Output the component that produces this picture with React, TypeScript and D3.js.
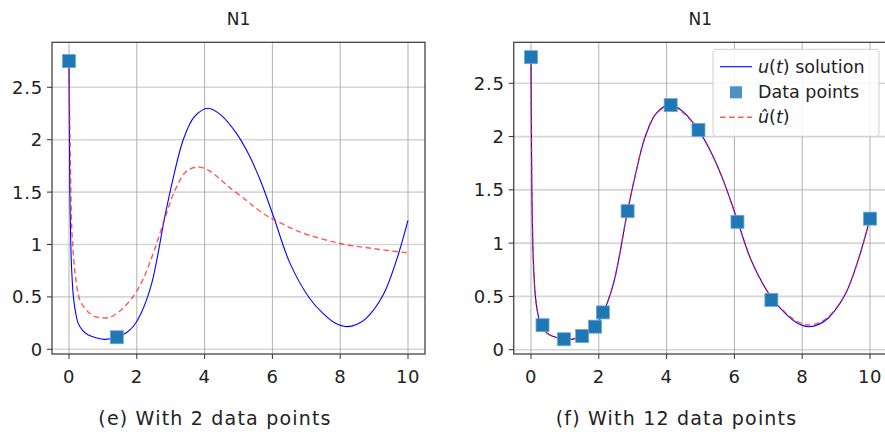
import React from "react";
import * as d3 from "d3";

// ---------- data ----------
const xTicks = [0, 2, 4, 6, 8, 10];
const yTicks = [0, 0.5, 1, 1.5, 2, 2.5];
const yTickLabels = ["0", "0.5", "1", "1.5", "2", "2.5"];

// true solution u(t)
const solT = [0, 0.01, 0.025, 0.05, 0.08, 0.13, 0.2, 0.27, 0.4, 0.57, 0.8, 1.05, 1.4, 1.7, 1.9, 2.12, 2.44, 2.83, 3.05, 3.37, 3.7, 4.11, 4.5, 4.94, 5.3, 5.64, 6.03, 6.52, 7.09, 7.5, 7.85, 8.19, 8.5, 8.78, 9.27, 9.67, 10];
const solU = [2.75, 2.15, 1.5, 1.04, 0.75, 0.5, 0.34, 0.25, 0.18, 0.136, 0.11, 0.095, 0.112, 0.16, 0.22, 0.34, 0.63, 1.27, 1.6, 2.0, 2.22, 2.3, 2.23, 2.06, 1.86, 1.615, 1.27, 0.82, 0.49, 0.34, 0.25, 0.216, 0.24, 0.3, 0.52, 0.86, 1.23];

// fit with 2 data points
const fit2T = [0, 0.03, 0.08, 0.11, 0.18, 0.32, 0.5, 0.7, 1.0, 1.2, 1.4, 1.65, 1.95, 2.2, 2.5, 2.85, 3.13, 3.47, 3.8, 4.1, 4.4, 4.75, 5.24, 5.5, 5.88, 6.03, 6.81, 8.0, 9.0, 10];
const fit2U = [2.75, 2.0, 1.17, 1.0, 0.725, 0.47, 0.38, 0.32, 0.3, 0.305, 0.34, 0.41, 0.53, 0.68, 0.93, 1.27, 1.52, 1.7, 1.74, 1.71, 1.64, 1.54, 1.42, 1.35, 1.265, 1.24, 1.12, 1.01, 0.96, 0.92];

// fit with 12 data points
const fit12T = [0, 0.01, 0.025, 0.05, 0.08, 0.13, 0.2, 0.27, 0.4, 0.57, 0.8, 1.05, 1.4, 1.7, 1.9, 2.12, 2.44, 2.83, 3.05, 3.37, 3.7, 4.11, 4.5, 4.94, 5.3, 5.64, 6.03, 6.52, 7.09, 7.5, 7.85, 8.19, 8.5, 8.78, 9.27, 9.67, 10];
const fit12U = [2.75, 2.15, 1.5, 1.04, 0.75, 0.5, 0.34, 0.25, 0.18, 0.136, 0.11, 0.096, 0.113, 0.16, 0.22, 0.34, 0.63, 1.27, 1.6, 2.0, 2.22, 2.29, 2.22, 2.06, 1.86, 1.615, 1.27, 0.82, 0.49, 0.35, 0.265, 0.232, 0.255, 0.31, 0.52, 0.86, 1.23];

const pts2T = [0, 1.41];
const pts2U = [2.75, 0.115];

const pts12T = [0, 0.34, 0.97, 1.51, 1.89, 2.12, 2.85, 4.12, 4.94, 6.09, 7.09, 10];
const pts12U = [2.745, 0.23, 0.098, 0.128, 0.216, 0.35, 1.3, 2.295, 2.063, 1.2, 0.467, 1.23];

const titles = ["N1", "N1"];
const captions = ["(e) With 2 data points", "(f) With 12 data points"];

const FONT = "'DejaVu Sans', sans-serif";
const BLUE = "#0000ff";
const RED = "#ff2020";
const MARK = "#1f77b4";

type PanelProps = {
  frameL: number; frameR: number; frameT: number; frameB: number;
  x0: number; x10: number; y0: number; y25: number;
  fitT: number[]; fitU: number[]; ptT: number[]; ptU: number[];
  title: string; caption: string; captionX: number; legend?: boolean;
};

function Panel(p: PanelProps) {
  const x = d3.scaleLinear().domain([0, 10]).range([p.x0, p.x10]);
  const y = d3.scaleLinear().domain([0, 2.5]).range([p.y0, p.y25]);
  const line = d3.line<[number, number]>()
    .x((d) => x(d[0]))
    .y((d) => y(d[1]))
    .curve(d3.curveCatmullRom.alpha(0.5));
  const solPath = line(solT.map((t, i) => [t, solU[i]] as [number, number])) || "";
  const fitPath = line(p.fitT.map((t, i) => [t, p.fitU[i]] as [number, number])) || "";
  const cx = (p.frameL + p.frameR) / 2;
  const ms = 13;
  const clipId = "clip" + Math.round(p.frameL);
  return (
    <g>
      <defs>
        <clipPath id={clipId}>
          <rect x={p.frameL} y={p.frameT - 10} width={p.frameR - p.frameL} height={p.frameB - p.frameT + 20} />
        </clipPath>
      </defs>
      {/* grid */}
      {yTicks.map((v) => (
        <line key={"gy" + v} x1={p.frameL} x2={p.frameR} y1={y(v)} y2={y(v)} stroke="#d6d6d6" strokeWidth={1.6} />
      ))}
      {xTicks.map((v) => (
        <line key={"gx" + v} x1={x(v)} x2={x(v)} y1={p.frameT} y2={p.frameB} stroke="#a8a8a8" strokeWidth={0.9} />
      ))}
      {/* curves */}
      <g clipPath={`url(#${clipId})`}>
        <path d={solPath} fill="none" stroke={BLUE} strokeWidth={1.1} />
        <path d={fitPath} fill="none" stroke={RED} strokeOpacity={0.75} strokeWidth={1.4} strokeDasharray="5.5 3.5" />
        {p.ptT.map((t, i) => (
          <rect key={"m" + i} x={x(t) - ms / 2} y={y(p.ptU[i]) - ms / 2} width={ms} height={ms}
            fill={MARK} stroke="#6fa6d3" strokeWidth={0.8} />
        ))}
      </g>
      {/* frame */}
      <rect x={p.frameL} y={p.frameT} width={p.frameR - p.frameL} height={p.frameB - p.frameT}
        fill="none" stroke="#444" strokeWidth={1.3} />
      {/* ticks */}
      {yTicks.map((v, i) => (
        <g key={"ty" + v}>
          <line x1={p.frameL - 5} x2={p.frameL} y1={y(v)} y2={y(v)} stroke="#333" strokeWidth={1} />
          <text x={p.frameL - 9} y={y(v) + 6.5} textAnchor="end" fontSize={18} fontFamily={FONT} fill="#222" letterSpacing={0.8}>
            {yTickLabels[i]}
          </text>
        </g>
      ))}
      {xTicks.map((v) => (
        <g key={"tx" + v}>
          <line x1={x(v)} x2={x(v)} y1={p.frameB} y2={p.frameB + 5} stroke="#333" strokeWidth={1} />
          <text x={x(v)} y={p.frameB + 29} textAnchor="middle" fontSize={18} fontFamily={FONT} fill="#222" letterSpacing={0.5}>
            {String(v)}
          </text>
        </g>
      ))}
      {/* title */}
      <text x={cx} y={25} textAnchor="middle" fontSize={17} fontFamily={FONT} fill="#222">{p.title}</text>
      {/* caption */}
      <text x={p.captionX} y={425} textAnchor="middle" fontSize={19} fontFamily={FONT} fill="#222" letterSpacing={1.2}>
        {p.caption}
      </text>
      {p.legend && (
        <g>
          <rect x={713} y={49.3} width={166} height={87} rx={3} fill="#fff" fillOpacity={0.85} stroke="#cfcfcf" strokeWidth={1} />
          <line x1={720} x2={752} y1={66.7} y2={66.7} stroke={BLUE} strokeWidth={1.1} />
          <text x={758} y={72.7} fontSize={17.5} fontFamily={FONT} fill="#222">
            <tspan fontStyle="italic">u</tspan>(<tspan fontStyle="italic">t</tspan>) solution
          </text>
          <rect x={736 - 6} y={92.3 - 6} width={12} height={12} fill={MARK} fillOpacity={0.8} />
          <text x={758} y={98.3} fontSize={17.5} fontFamily={FONT} fill="#222">Data points</text>
          <line x1={720} x2={752} y1={117.3} y2={117.3} stroke={RED} strokeOpacity={0.75} strokeWidth={1.4} strokeDasharray="5.5 3.5" />
          <text x={758} y={123.3} fontSize={17.5} fontFamily={FONT} fill="#222">
            <tspan fontStyle="italic">û</tspan>(<tspan fontStyle="italic">t</tspan>)
          </text>
        </g>
      )}
    </g>
  );
}

export default function App() {
  return (
    <svg width={885} height={432} style={{ position: "absolute", left: 0, top: 0, background: "#fff" }}>
      <rect x={0} y={0} width={885} height={432} fill="#fff" />
      <Panel frameL={52} frameR={425} frameT={42.3} frameB={354}
        x0={69} x10={408} y0={349.3} y25={87.3}
        fitT={fit2T} fitU={fit2U} ptT={pts2T} ptU={pts2U}
        title={titles[0]} caption={captions[0]} captionX={215} />
      <Panel frameL={513.7} frameR={887} frameT={42.3} frameB={354}
        x0={531} x10={870} y0={349.7} y25={83.3}
        fitT={fit12T} fitU={fit12U} ptT={pts12T} ptU={pts12U}
        title={titles[1]} caption={captions[1]} captionX={676.5} legend />
    </svg>
  );
}
